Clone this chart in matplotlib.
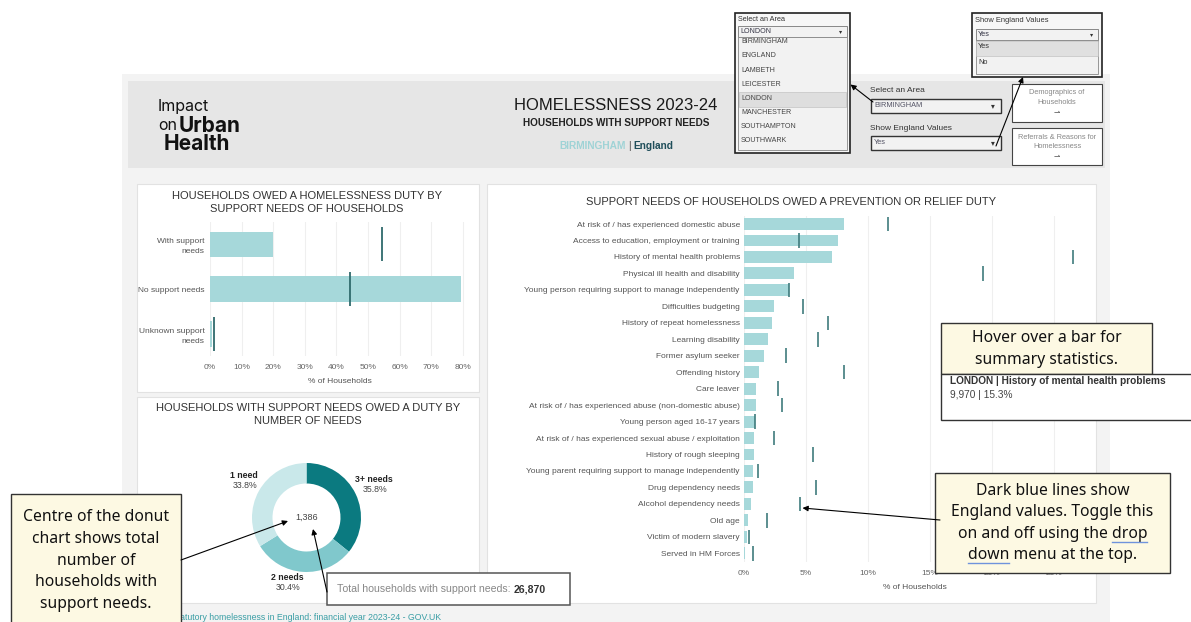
import matplotlib
matplotlib.use("Agg")
import matplotlib.pyplot as plt
from matplotlib.patches import Rectangle
import numpy as np

W, H = 1191, 622
plt.rcParams['font.family'] = ['Liberation Sans', 'DejaVu Sans']

# ---------------- data ----------------
area_name = "BIRMINGHAM"
compare_name = "England"
main_title = "HOMELESSNESS 2023-24"
sub_title = "HOUSEHOLDS WITH SUPPORT NEEDS"

duty_labels = ["With support\nneeds", "No support needs", "Unknown support\nneeds"]
duty_area = [19.8, 79.6, 0.6]
duty_england = [54.6, 44.4, 1.2]
duty_ticks = [0, 10, 20, 30, 40, 50, 60, 70, 80]

need_labels = ["3+ needs", "2 needs", "1 need"]
need_share = [35.8, 30.4, 33.8]
need_centre_value = "1,386"
total_with_needs = "26,870"

support_labels = [
    "At risk of / has experienced domestic abuse",
    "Access to education, employment or training",
    "History of mental health problems",
    "Physical ill health and disability",
    "Young person requiring support to manage independently",
    "Difficulties budgeting",
    "History of repeat homelessness",
    "Learning disability",
    "Former asylum seeker",
    "Offending history",
    "Care leaver",
    "At risk of / has experienced abuse (non-domestic abuse)",
    "Young person aged 16-17 years",
    "At risk of / has experienced sexual abuse / exploitation",
    "History of rough sleeping",
    "Young parent requiring support to manage independently",
    "Drug dependency needs",
    "Alcohol dependency needs",
    "Old age",
    "Victim of modern slavery",
    "Served in HM Forces",
]
support_area = [8.06, 7.58, 7.10, 4.03, 3.63, 2.42, 2.26, 1.94, 1.61, 1.21, 0.97,
                0.97, 0.89, 0.80, 0.78, 0.70, 0.70, 0.59, 0.30, 0.25, 0.06]
support_england = [11.6, 4.44, 26.5, 19.3, 3.65, 4.76, 6.77, 5.97, 3.39, 8.06, 2.74,
                   3.06, 0.89, 2.42, 5.60, 1.13, 5.80, 4.54, 1.83, 0.38, 0.70]
support_ticks = [0, 5, 10, 15, 20, 25]

area_options = ["BIRMINGHAM", "ENGLAND", "LAMBETH", "LEICESTER", "LONDON",
                "MANCHESTER", "SOUTHAMPTON", "SOUTHWARK"]
dropdown_area = "LONDON"
england_options = ["Yes", "No"]
england_choice = "Yes"

tooltip_area = "LONDON"
tooltip_need = "History of mental health problems"
tooltip_count = "9,970"
tooltip_pct = "15.3%"
source_text = "Statutory homelessness in England: financial year 2023-24 - GOV.UK"

callout_donut = ["Centre of the donut", "chart shows total", "number of",
                 "households with", "support needs."]
callout_hover = ["Hover over a bar for", "summary statistics."]
callout_lines = ["Dark blue lines show", "England values. Toggle this",
                 "on and off using the drop", "down menu at the top."]

# ---------------- colours ----------------
BAR = '#a6d8da'
ENG = '#2f6a6c'
DONUT_C = ['#0b7a80', '#80c8cc', '#c9e8ea']
LABEL = '#555555'
TITLE = '#333333'
CALLOUT_FC = '#fdf9e3'

fig = plt.figure(figsize=(W / 100, H / 100), dpi=100)
renderer = fig.canvas.get_renderer()


def px_axes(x0, y0, x1, y1, z=1):
    return fig.add_axes([x0 / W, 1 - y1 / H, (x1 - x0) / W, (y1 - y0) / H], zorder=z)


def overlay(z):
    ax = px_axes(0, 0, W, H, z)
    ax.set_xlim(0, W)
    ax.set_ylim(H, 0)
    ax.axis('off')
    return ax


bg = overlay(0)
fg = overlay(10)


def rect(ax, x0, y0, x1, y1, fc, ec='none', lw=0.0, z=1):
    ax.add_patch(Rectangle((x0, y0), x1 - x0, y1 - y0, facecolor=fc,
                           edgecolor=ec, linewidth=lw, zorder=z, clip_on=False))


def txt(ax, x, y, s, size, color='#333333', ha='left', weight='normal', family=None, z=3, **kw):
    d = dict(fontsize=size, color=color, ha=ha, va='center', weight=weight, zorder=z)
    if family:
        d['family'] = family
    d.update(kw)
    return ax.text(x, y, s, **d)


def width_of(t):
    return t.get_window_extent(renderer).width


def pieces(ax, x, y, parts, ha='left', gap=3):
    objs = []
    for s, st in parts:
        objs.append(ax.text(0, y, s, ha='left', va='center', zorder=4, **st))
    ws = [width_of(o) for o in objs]
    total = sum(ws) + gap * (len(ws) - 1)
    cur = x - total / 2 if ha == 'center' else x
    for o, w in zip(objs, ws):
        o.set_x(cur)
        cur += w + gap


def arrow(ax, x0, y0, x1, y1):
    ax.annotate('', xy=(x1, y1), xytext=(x0, y0),
                arrowprops=dict(arrowstyle='-|>', color='black', lw=0.8,
                                mutation_scale=8, shrinkA=0, shrinkB=0), zorder=8)


# ---------------- dashboard background ----------------
rect(bg, 122, 74, 1110, 622, '#f3f3f3')
rect(bg, 128, 81, 1105, 168, '#e6e6e6')
for (x0, y0, x1, y1) in [(137, 184, 479, 392), (137, 397, 479, 603), (487, 184, 1096, 603)]:
    rect(bg, x0, y0, x1, y1, 'white', ec='#e2e2e2', lw=0.8)

# logo
txt(bg, 158, 107, "Impact", 11.5, color='#111111', family=['Inter', 'DejaVu Sans'])
txt(bg, 158, 126, "on", 11.5, color='#111111', family=['Inter', 'DejaVu Sans'])
txt(bg, 179, 126, "Urban", 15, color='#111111', weight='bold', family=['Inter', 'DejaVu Sans'])
txt(bg, 164, 144, "Health", 15, color='#111111', weight='bold', family=['Inter', 'DejaVu Sans'])

# titles
txt(bg, 616, 106, main_title, 12, color='#1a1a1a', ha='center')
txt(bg, 616, 123, sub_title, 7.2, color='#222222', ha='center', weight='bold')
pieces(bg, 616, 146, [(area_name, dict(fontsize=7.3, color='#9fd3d6', weight='bold')),
                      ("|", dict(fontsize=7.3, color='#555555')),
                      (compare_name, dict(fontsize=7.3, color='#1f4e5a', weight='bold'))],
       ha='center', gap=2.5)

# header controls
txt(bg, 870, 91, "Select an Area", 6, color='#333333')
rect(bg, 870.5, 98.5, 1000.5, 112.5, '#f2f2f2', ec='#333333', lw=1.0)
txt(bg, 874, 105.5, area_name, 5.3, color='#555566')
txt(bg, 993, 105.5, "\u25BE", 5.5, color='#333333', ha='center', family=['DejaVu Sans'])
txt(bg, 870, 128, "Show England Values", 6, color='#333333')
rect(bg, 870.5, 136, 1000.5, 150, '#f2f2f2', ec='#333333', lw=1.0)
txt(bg, 874, 143, england_choice, 5.3, color='#555566')
txt(bg, 993, 143, "\u25BE", 5.5, color='#333333', ha='center', family=['DejaVu Sans'])

rect(bg, 1012, 84, 1102, 122, 'white', ec='#444444', lw=0.8)
txt(bg, 1057, 93, "Demographics of", 5.3, color='#888888', ha='center')
txt(bg, 1057, 102.5, "Households", 5.3, color='#888888', ha='center')
txt(bg, 1057, 113, "\u21C0", 5.5, color='#555555', ha='center', family=['DejaVu Sans'])
rect(bg, 1012, 127.5, 1102, 165, 'white', ec='#444444', lw=0.8)
txt(bg, 1057, 137.5, "Referrals & Reasons for", 5.3, color='#888888', ha='center')
txt(bg, 1057, 146.5, "Homelessness", 5.3, color='#888888', ha='center')
txt(bg, 1057, 157, "\u21C0", 5.5, color='#555555', ha='center', family=['DejaVu Sans'])

# panel titles
txt(bg, 307, 196, "HOUSEHOLDS OWED A HOMELESSNESS DUTY BY", 8, color=TITLE, ha='center')
txt(bg, 307, 209.5, "SUPPORT NEEDS OF HOUSEHOLDS", 8, color=TITLE, ha='center')
txt(bg, 308, 408, "HOUSEHOLDS WITH SUPPORT NEEDS OWED A DUTY BY", 8, color=TITLE, ha='center')
txt(bg, 308, 421.5, "NUMBER OF NEEDS", 8, color=TITLE, ha='center')
txt(bg, 791.5, 202, "SUPPORT NEEDS OF HOUSEHOLDS OWED A PREVENTION OR RELIEF DUTY", 8,
    color=TITLE, ha='center')

# footer
txt(bg, 172, 618, source_text, 6.3, color='#3a9ea5')

# ---------------- left top chart ----------------
axL = px_axes(210, 222.1, 469, 356.4, z=2)
yL = np.arange(len(duty_labels))
axL.barh(yL, duty_area, height=0.57, color=BAR, zorder=2)
axL.vlines(duty_england, yL - 0.38, yL + 0.38, color=ENG, lw=1.3, zorder=3)
axL.set_xlim(0, 82)
axL.set_ylim(len(duty_labels) - 0.5, -0.5)
axL.set_yticks(yL)
axL.set_yticklabels(duty_labels, fontsize=6, color=LABEL)
for lab in axL.get_yticklabels():
    lab.set_linespacing(1.55)
axL.set_xticks(duty_ticks)
axL.set_xticklabels([f"{t}%" for t in duty_ticks], fontsize=6, color='#666666')
axL.tick_params(length=0, pad=4)
axL.tick_params(axis='x', pad=5.5)
axL.grid(axis='x', color='#efefef', lw=0.8, zorder=0)
axL.set_axisbelow(True)
for sp in axL.spines.values():
    sp.set_visible(False)
axL.patch.set_alpha(0)
axL.set_xlabel("% of Households", fontsize=6, color=LABEL, labelpad=5)

# ---------------- donut ----------------
cx, cy, R = 306.5, 517.5, 60
axD = px_axes(cx - R, cy - R, cx + R, cy + R, z=2)
axD.pie(need_share, colors=DONUT_C, startangle=90, counterclock=False,
        radius=54.5 / R, wedgeprops=dict(width=20.5 / R, linewidth=0))
axD.set_xlim(-1, 1)
axD.set_ylim(-1, 1)
axD.axis('off')
label_xy = [(374, 479), (287, 577), (244, 475)]
for (lx, ly), lab, sh in zip(label_xy, need_labels, need_share):
    txt(bg, lx, ly, lab, 6.3, color='#222222', ha='center', weight='bold')
    txt(bg, lx + 1, ly + 10, f"{sh:.1f}%", 6.3, color='#444444', ha='center')
txt(bg, cx, cy, need_centre_value, 6.5, color='#444444', ha='center')

# ---------------- right chart ----------------
axR = px_axes(744, 215.8, 1085, 561.5, z=2)
yR = np.arange(len(support_labels))
axR.barh(yR, support_area, height=0.72, color=BAR, zorder=2)
axR.vlines(support_england, yR - 0.44, yR + 0.44, color='#3f7b7d', lw=1.2, zorder=3)
axR.set_xlim(0, 27.5)
axR.set_ylim(len(support_labels) - 0.5, -0.5)
axR.set_yticks(yR)
axR.set_yticklabels(support_labels, fontsize=6.05, color=LABEL)
axR.set_xticks(support_ticks)
axR.set_xticklabels([f"{t}%" for t in support_ticks], fontsize=6, color='#666666')
axR.tick_params(length=0, pad=3)
axR.tick_params(axis='x', pad=6)
axR.grid(axis='x', color='#efefef', lw=0.8, zorder=0)
axR.set_axisbelow(True)
for sp in axR.spines.values():
    sp.set_visible(False)
axR.patch.set_alpha(0)
axR.set_xlabel("% of Households", fontsize=6, color=LABEL, labelpad=5)

# ---------------- foreground overlays ----------------
# area dropdown (expanded)
rect(fg, 735, 13.3, 849.5, 152.7, '#f7f7f7', ec='#222222', lw=1.2)
txt(fg, 738, 19.5, "Select an Area", 5.2, color='#333333')
rect(fg, 738.3, 25.7, 846.7, 36.7, '#f2f2f2', ec='#777777', lw=0.6)
txt(fg, 740.5, 31.3, dropdown_area, 5.1, color='#333344')
txt(fg, 841, 31.3, "\u25BE", 4.5, color='#333333', ha='center', family=['DejaVu Sans'])
rect(fg, 738.3, 36.7, 846.7, 150, '#f2f2f2', ec='#888888', lw=0.6)
list_y0, list_dy = 41.7, 14.15
for i, opt in enumerate(area_options):
    yy = list_y0 + i * list_dy
    if opt == dropdown_area:
        rect(fg, 739, yy - 6, 846, yy + 8.5, '#dedede', ec='#bbbbbb', lw=0.4, z=2)
    txt(fg, 741, yy, opt, 5.1, color='#444444')

# England values dropdown (expanded)
rect(fg, 971.7, 13.3, 1101.7, 77.5, '#f7f7f7', ec='#222222', lw=1.2)
txt(fg, 975, 20.7, "Show England Values", 5.4, color='#333333')
rect(fg, 975.7, 29, 1098.3, 40, '#f2f2f2', ec='#777777', lw=0.6)
txt(fg, 977.5, 34.5, england_choice, 5.2, color='#333344')
txt(fg, 1092, 34.5, "\u25BE", 4.5, color='#333333', ha='center', family=['DejaVu Sans'])
rect(fg, 975.7, 40, 1098.3, 73.5, '#f2f2f2', ec='#888888', lw=0.6)
for i, opt in enumerate(england_options):
    yy = 46.3 + i * 16
    if opt == england_choice:
        rect(fg, 976.3, 40.6, 1097.7, 56, '#e0e0e0', ec='#bbbbbb', lw=0.4, z=2)
    txt(fg, 978, yy, opt, 5.3, color='#333333')

arrow(fg, 873, 102, 850.5, 84.5)
arrow(fg, 996, 146, 1023, 77)

# left callout
rect(fg, 10.5, 493.5, 181, 630, CALLOUT_FC, ec='#333333', lw=1.0)
for i, line in enumerate(callout_donut):
    txt(fg, 95.8, 517.3 + i * 21.7, line, 11.3, color='#111111', ha='center',
        family=['Noto Sans', 'DejaVu Sans'])
arrow(fg, 181, 560, 288, 521)

# total households box
rect(fg, 326.5, 572.5, 570, 605, 'white', ec='#555555', lw=1.1)
pieces(fg, 337, 589, [("Total households with support needs:", dict(fontsize=7.6, color='#888888')),
                      (total_with_needs, dict(fontsize=7.6, color='#333333', weight='bold'))], gap=3)
arrow(fg, 327, 592, 313, 529)

# hover callout + tooltip
rect(fg, 940.7, 323.3, 1152, 374, CALLOUT_FC, ec='#333333', lw=1.0)
for i, line in enumerate(callout_hover):
    txt(fg, 1046.5, 338 + i * 22, line, 11.3, color='#111111', ha='center',
        family=['Noto Sans', 'DejaVu Sans'])
rect(fg, 941, 374, 1200, 419.5, 'white', ec='#333333', lw=1.0)
txt(fg, 950, 381.5, f"{tooltip_area} | {tooltip_need}", 7.3, color='#333333', weight='bold')
txt(fg, 950, 394.5, f"{tooltip_count} | {tooltip_pct}", 7.3, color='#444444')

# dark blue lines callout
rect(fg, 935, 473, 1170, 573, CALLOUT_FC, ec='#333333', lw=1.0)
line_objs = []
for i, line in enumerate(callout_lines):
    line_objs.append(txt(fg, 1052.5, 491 + i * 21.3, line, 11.3, color='#111111', ha='center',
                         family=['Noto Sans', 'DejaVu Sans']))
# spell-check style underline under "drop" and "down"
probe = fg.text(0, 0, "drop", fontsize=11.3, family=['Noto Sans', 'DejaVu Sans'])
w_drop = width_of(probe)
probe.set_text("down")
w_down = width_of(probe)
probe.remove()
bb3 = line_objs[2].get_window_extent(renderer)
bb4 = line_objs[3].get_window_extent(renderer)
ul3 = 491 + 2 * 21.3 + 8
ul4 = 491 + 3 * 21.3 + 8
fg.plot([bb3.x1 - w_drop, bb3.x1], [ul3, ul3], color='#6f93dc', lw=1.0, zorder=9)
fg.plot([bb4.x0, bb4.x0 + w_down], [ul4, ul4], color='#6f93dc', lw=1.0, zorder=9)
arrow(fg, 940, 520, 802.5, 508)

fig.savefig("out.png", dpi=100)
